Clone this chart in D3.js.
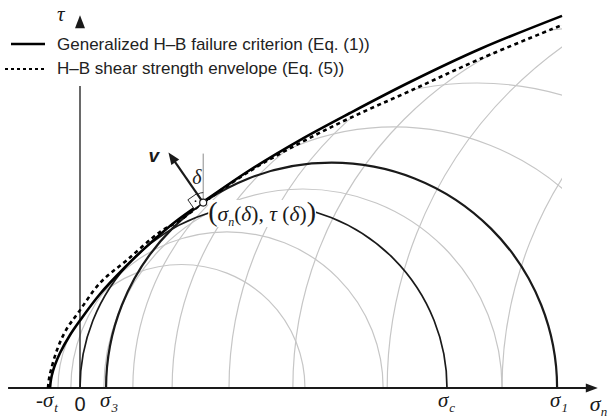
<!DOCTYPE html>
<html><head><meta charset="utf-8">
<script src="https://cdn.jsdelivr.net/npm/d3@7"></script>
<style>body{margin:0;background:#fff}svg{display:block}</style>
</head><body>
<svg id="chart" width="609" height="418"></svg>
<script>
// ---- data (stress units, sigma_c = 100) ----
const sigmaT = 8.2, sigma3 = 7.1, sigmaC = 100, sigma1 = 130.0;
const deltaDeg = 34.7;
const axisRange = [-19.6, 141.1];
const tauTop = 101.6, tauAxisBreak = 82.3;
// generalized H-B failure criterion (Eq. 1) [sigma_n, tau]
const envelopeGHB = [[-8.17,0],[-7.9,2.4],[-7.36,4.63],[-6.81,6.3],[-5.45,9.54],[-2.72,14.44],[0,18.4],[5.45,25.61],
  [12.26,32.9],[19.07,39.4],[25.89,45.23],[33.51,50.68],[46.32,59.4],[59.95,67.57],[73.57,74.93],
  [89.92,83.38],[108.99,92.37],[131.34,101.4]];
// H-B shear strength envelope (Eq. 5)
const envelopeShear = [[-8.72,0],[-8.45,2.4],[-7.9,4.9],[-6.27,10.35],[-3.81,15.8],[-0.54,20.44],[5.45,28.61],
  [12.81,34.88],[21.8,42.51],[27.25,45.7],[33.51,50.41],[46.32,59.13],[59.95,66.76],[73.57,73.57],
  [89.92,80.93],[108.99,89.65],[131.34,98.91]];
// grey Mohr circles [sigma_3, sigma_1]
const greyCircles = [[-6.0,61.3],[-2.5,82.6],[6.5,115.0],[14.4,156.7],[25.1,191.3],[40.6,236.8],
  [58.0,265.1],[83.7,312.5],[115.0,330.2]];
const blackCircles = [[0, sigmaC, 1.7],[sigma3, sigma1, 2.2]];
const legendItems = ["Generalized H\u2013B failure criterion (Eq. (1))","H\u2013B shear strength envelope (Eq. (5))"];

const svg = d3.select("#chart");
const x = d3.scaleLinear().domain([0, sigmaC]).range([80, 447]);
const y = d3.scaleLinear().domain([0, 100]).range([388, 21]);
const ink = "#1a1a1a";
const serif = "'Liberation Serif','Times New Roman',serif";
const sans = "'Liberation Sans',Arial,sans-serif";

const line = d3.line().x(d=>x(d[0])).y(d=>y(d[1])).curve(d3.curveCatmullRom.alpha(0.5));
const defs = svg.append("defs");
function clipFrom(id, pts){
  const last = pts[pts.length-1];
  defs.append("clipPath").attr("id", id).append("path")
    .attr("d", line(pts) + `L${x(last[0])},${y(0)}Z`);
}
clipFrom("clipS", envelopeGHB);
clipFrom("clipD", envelopeShear);

function semi(a, b){
  const r = (x(b)-x(a))/2;
  return `M${x(a)},${y(0)}A${r},${r} 0 0 1 ${x(b)},${y(0)}`;
}

// grey circles
svg.append("g").attr("clip-path","url(#clipS)").append("g").attr("clip-path","url(#clipD)")
  .selectAll("path").data(greyCircles).join("path")
  .attr("d", d=>semi(d[0], d[1])).attr("fill","none").attr("stroke","#c6c6c6").attr("stroke-width",1.2);

// axes
svg.append("line").attr("x1", x(axisRange[0])).attr("x2", x(axisRange[1])-8)
  .attr("y1", y(0)).attr("y2", y(0)).attr("stroke", ink).attr("stroke-width", 1.8);
svg.append("path").attr("fill", ink)
  .attr("d", `M${x(axisRange[1])},${y(0)}l-12,-4.5l0,9z`);
svg.append("line").attr("x1", x(0)).attr("x2", x(0)).attr("y1", y(0)).attr("y2", y(tauAxisBreak))
  .attr("stroke", ink).attr("stroke-width", 1.3);
svg.append("path").attr("fill", ink)
  .attr("d", `M${x(0)},${y(tauTop)}l-5,13l10,0z`);

// black circles
svg.append("g").selectAll("path").data(blackCircles).join("path")
  .attr("d", d=>semi(d[0], d[1])).attr("fill","none").attr("stroke", ink).attr("stroke-width", d=>d[2]);

// envelopes
svg.append("path").attr("d", line(envelopeGHB)).attr("fill","none").attr("stroke","#000").attr("stroke-width",2.6);
svg.append("path").attr("d", line(envelopeShear)).attr("fill","none").attr("stroke","#000")
  .attr("stroke-width",2.6).attr("stroke-dasharray","4,3.5");

// legend
const lg = svg.append("g");
lg.append("line").attr("x1",11).attr("x2",45).attr("y1",44).attr("y2",44).attr("stroke","#000").attr("stroke-width",2.4);
lg.append("line").attr("x1",5).attr("x2",45).attr("y1",69).attr("y2",69).attr("stroke","#000").attr("stroke-width",2.2).attr("stroke-dasharray","3,3");
lg.selectAll("text").data(legendItems).join("text")
  .attr("x",57).attr("y",(d,i)=>50+i*24).attr("font-family",sans).attr("font-size",17).attr("fill","#222").text(d=>d);

// tau label
svg.append("text").attr("x",57).attr("y",21).attr("font-family",serif).attr("font-style","italic")
  .attr("font-size",21).attr("fill",ink).text("\u03c4");

// axis labels
function sigLabel(v, sub, pre, dx){
  const t = svg.append("text").attr("x", x(v)+dx).attr("y", 407).attr("font-family", serif).attr("font-size", 21).attr("fill", ink);
  if (pre) t.append("tspan").text(pre).attr("dx",-6);
  t.append("tspan").attr("font-style","italic").text("\u03c3");
  t.append("tspan").attr("font-style","italic").attr("font-size",13).attr("dy",5).attr("dx",1).text(sub);
}
sigLabel(-sigmaT, "t", "-", -8);
sigLabel(sigma3, "3", null, -6);
sigLabel(sigmaC, "c", null, -9);
sigLabel(sigma1, "1", null, -7);
{
  const t = svg.append("text").attr("x", x(axisRange[1])-8).attr("y", 411).attr("font-family", serif).attr("font-size", 22).attr("fill", ink);
  t.append("tspan").attr("font-style","italic").text("\u03c3");
  t.append("tspan").attr("font-style","italic").attr("font-size",13).attr("dy",5).text("n");
}
svg.append("text").attr("x", x(0)).attr("y", 411).attr("text-anchor","middle").attr("font-family", sans)
  .attr("font-size", 20).attr("fill", ink).text("0");

// tangent point on the sigma3 circle
const cc = (sigma3+sigma1)/2, rr = (sigma1-sigma3)/2, dr = deltaDeg*Math.PI/180;
const Pd = [cc - rr*Math.sin(dr), rr*Math.cos(dr)];
const P = [x(Pd[0]), y(Pd[1])];
const u = [-Math.sin(dr), -Math.cos(dr)];   // normal (arrow v)
const tg = [-Math.cos(dr), Math.sin(dr)];   // tangent, down-left

// label with white background
const lab = svg.append("text").attr("x", P[0]+5).attr("y", 221).attr("font-family", serif).attr("fill", ink).attr("font-size", 21.5);
lab.append("tspan").attr("font-size",28).text("(");
lab.append("tspan").attr("font-style","italic").text("\u03c3");
lab.append("tspan").attr("font-style","italic").attr("font-size",12).attr("dy",5).text("n");
lab.append("tspan").attr("dy",-5).text("(");
lab.append("tspan").attr("font-style","italic").text("\u03b4");
lab.append("tspan").text("), ");
lab.append("tspan").attr("font-style","italic").text("\u03c4");
lab.append("tspan").text(" (");
lab.append("tspan").attr("font-style","italic").text("\u03b4");
lab.append("tspan").text(")");
lab.append("tspan").attr("font-size",28).text(")");
const bb = lab.node().getBBox();
svg.insert("rect", () => lab.node()).attr("x", bb.x).attr("y", bb.y+4).attr("width", bb.width).attr("height", bb.height-6).attr("fill","#fff");

// vertical reference line
svg.append("line").attr("x1",P[0]).attr("x2",P[0]).attr("y1",P[1]).attr("y2",P[1]-49).attr("stroke","#8a8a8a").attr("stroke-width",1);
// delta arc
const R = 10;
svg.append("path").attr("fill","none").attr("stroke",ink).attr("stroke-width",0.9)
  .attr("d", `M${P[0]},${P[1]-R}A${R},${R} 0 0 0 ${P[0]+R*u[0]},${P[1]+R*u[1]}`);
svg.append("text").attr("x",P[0]-11).attr("y",P[1]-19).attr("font-family",serif).attr("font-style","italic")
  .attr("font-size",20).attr("fill",ink).text("\u03b4");
// right angle marker
const s = 11;
const sq = [[P[0],P[1]],[P[0]+s*u[0],P[1]+s*u[1]],[P[0]+s*u[0]+s*tg[0],P[1]+s*u[1]+s*tg[1]],[P[0]+s*tg[0],P[1]+s*tg[1]]];
svg.append("path").attr("d","M"+sq.map(p=>p.join(",")).join("L")+"Z").attr("fill","#fff").attr("stroke",ink).attr("stroke-width",0.9);
svg.append("circle").attr("cx",P[0]+s/2*(u[0]+tg[0])).attr("cy",P[1]+s/2*(u[1]+tg[1])).attr("r",0.9).attr("fill",ink);
// arrow v
const L = 61, tip = [P[0]+L*u[0], P[1]+L*u[1]];
svg.append("line").attr("x1",P[0]).attr("y1",P[1]).attr("x2",P[0]+(L-9)*u[0]).attr("y2",P[1]+(L-9)*u[1])
  .attr("stroke",ink).attr("stroke-width",2.2);
const hb = [tip[0]-12*u[0], tip[1]-12*u[1]];
svg.append("path").attr("fill",ink)
  .attr("d",`M${tip[0]},${tip[1]}L${hb[0]+4.8*tg[0]},${hb[1]+4.8*tg[1]}L${hb[0]-4.8*tg[0]},${hb[1]-4.8*tg[1]}Z`);
svg.append("text").attr("x",tip[0]-20).attr("y",tip[1]+10).attr("font-family",sans).attr("font-style","italic")
  .attr("font-weight","bold").attr("font-size",19).attr("fill",ink).text("v");
// point
svg.append("circle").attr("cx",P[0]).attr("cy",P[1]).attr("r",3.5).attr("fill","#fff").attr("stroke",ink).attr("stroke-width",1.2);
</script>
</body></html>
